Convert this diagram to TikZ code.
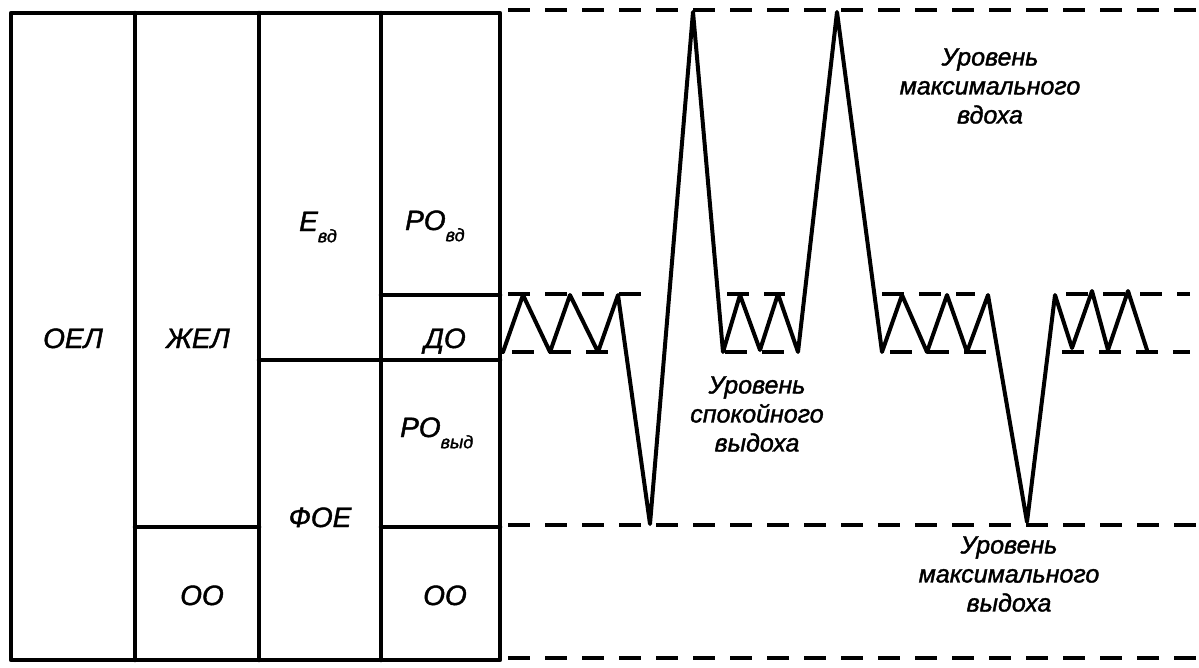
\documentclass[tikz,border=0pt]{standalone}
\usepackage{fontspec}
\setmainfont{Liberation Sans}
\newfontfamily\thickit[FakeBold=1.5]{Liberation Sans}
\begin{document}
\begin{tikzpicture}[x=1pt,y=-1pt,
  frame/.style={line width=4.5pt, line cap=round, line join=round},
  lvl/.style={line width=4pt, dash pattern=on 22pt off 15pt},
  spiro/.style={line width=4pt, line join=round, line cap=round},
  lab/.style={font=\fontsize{28}{28}\selectfont\thickit\itshape, inner sep=0pt},
  note/.style={font=\fontsize{25}{29}\selectfont\thickit\itshape, align=center, inner sep=0pt}]
\useasboundingbox (0,0) rectangle (1199,667);
\newcommand{\sbs}[1]{\raisebox{-0.4em}{\fontsize{18}{18}\selectfont #1}}
% table
\draw[frame] (11,13) rectangle (500,660);
\draw[frame] (135,13) -- (135,660);
\draw[frame] (259,13) -- (259,660);
\draw[frame] (381,13) -- (381,660);
\draw[frame] (135,527) -- (259,527);
\draw[frame] (259,360) -- (381,360);
\draw[frame] (381,295) -- (500,295);
\draw[frame] (381,360) -- (500,360);
\draw[frame] (381,527) -- (500,527);
% table labels
\node[lab, anchor=base] (oel) at (73,348) {ОЕЛ};
\node[lab, anchor=base] (zhel) at (198,348) {ЖЕЛ};
\node[lab, anchor=base west] (evd) at (299,231) {Е\sbs{вд}};
\node[lab, anchor=base west] (rovd) at (405,230) {РО\sbs{вд}};
\node[lab, anchor=base] (do) at (445,348) {ДО};
\node[lab, anchor=base west] (rovyd) at (400,437) {РО\sbs{выд}};
\node[lab, anchor=base] (foe) at (320,527) {ФОЕ};
\node[lab, anchor=base] (oo1) at (202,605) {ОО};
\node[lab, anchor=base] (oo2) at (445,605) {ОО};
% level lines
\draw[lvl] (508,10) -- (1199,10);
\draw[lvl] (508,525) -- (1199,525);
\draw[lvl] (508,658) -- (1199,658);
\draw[lvl] (508,294) -- (652,294);
\draw[lvl] (512,352) -- (618,352);
\draw[lvl] (727,294) -- (785,294);
\draw[lvl] (725,352) -- (795,352);
\draw[lvl] (882,294) -- (975,294);
\draw[lvl] (890,352) -- (992,352);
\draw[lvl] (1066,294) -- (1190,294);
\draw[lvl] (1062,352) -- (1190,352);
% spirogram
\draw[spiro] (503,352) -- (523,295) -- (550,352) -- (570,295) -- (598,352) -- (618,295)
  -- (650,524) -- (693,12) -- (723,352) -- (740,295) -- (760,350) -- (778,294) -- (798,352)
  -- (837,12) -- (882,352) -- (902,295) -- (927,352) -- (947,295) -- (967,352) -- (988,295)
  -- (1027,522) -- (1055,295) -- (1072,348) -- (1092,291) -- (1108,350) -- (1128,291) -- (1147,350);
% notes
\node[note] (maxin) at (990,86) {Уровень\\максимального\\вдоха};
\node[note] (rest) at (757,414) {Уровень\\спокойного\\выдоха};
\node[note] (maxex) at (1009,574) {Уровень\\максимального\\выдоха};
\end{tikzpicture}
\end{document}
